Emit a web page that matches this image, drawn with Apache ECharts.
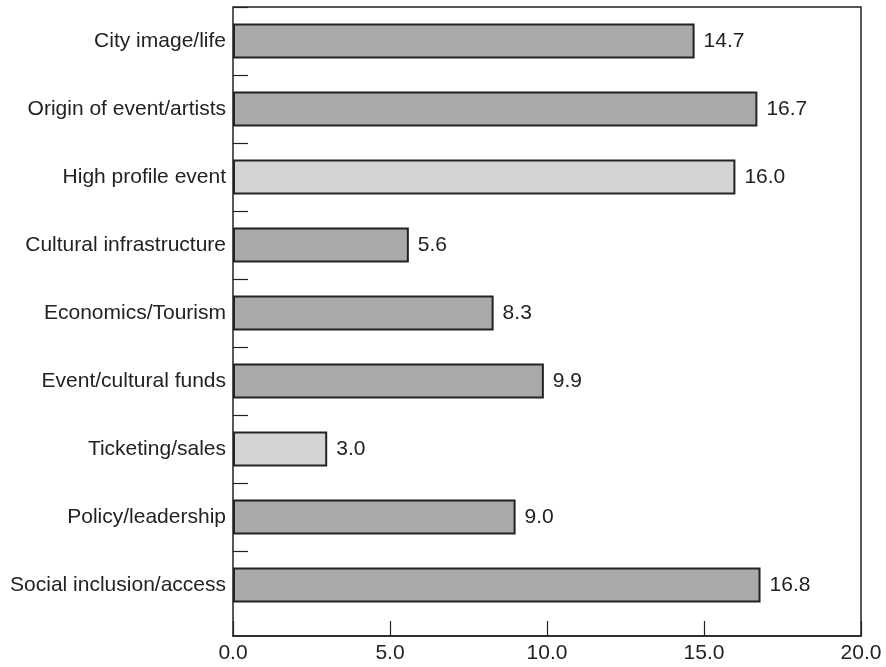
<!DOCTYPE html>
<html>
<head>
<meta charset="utf-8">
<script src="https://cdn.jsdelivr.net/npm/echarts@6/dist/echarts.min.js"></script>
<style>html,body{margin:0;padding:0;background:#fff;}#c{width:886px;height:667px;}</style>
</head>
<body>
<div id="c"></div>
<script>
// Top-to-bottom order as in the reference
const categories = ["City image/life","Origin of event/artists","High profile event","Cultural infrastructure","Economics/Tourism","Event/cultural funds","Ticketing/sales","Policy/leadership","Social inclusion/access"];
const values = [14.7, 16.7, 16.0, 5.6, 8.3, 9.9, 3.0, 9.0, 16.8];
const highlighted = [false, false, true, false, false, false, true, false, false];
const xTicks = [0, 5, 10, 15, 20];

const DARK = '#a9a9a9', LIGHT = '#d4d4d4', INK = '#222';
const FONT = 'Liberation Sans';
const FS = 21;

// category axis drawn bottom-up, so reverse
const cats = categories.slice().reverse();
const hl = highlighted.slice().reverse();
const data = values.slice().reverse().map((v, i) => ({
  value: v,
  itemStyle: { color: hl[i] ? LIGHT : DARK }
}));

const chart = echarts.init(document.getElementById('c'), null, {renderer: 'canvas'});
chart.setOption({
  animation: false,
  backgroundColor: '#fff',
  grid: [
    { left: 233, right: 25, top: 7, height: 612 },
    { left: 233, right: 25, top: 7, bottom: 31, show: true, borderColor: INK, borderWidth: 1.5, backgroundColor: 'transparent' }
  ],
  xAxis: [
    { gridIndex: 0, type: 'value', min: xTicks[0], max: xTicks[xTicks.length-1], show: false },
    { gridIndex: 1, type: 'value', min: xTicks[0], max: xTicks[xTicks.length-1], interval: 5,
      axisLine: { show: true, lineStyle: { color: INK, width: 1.5 } },
      axisTick: { show: true, inside: true, length: 15, lineStyle: { color: INK, width: 1.2 } },
      splitLine: { show: false },
      axisLabel: { margin: 7, color: INK, fontFamily: FONT, fontSize: FS, formatter: v => v.toFixed(1) } }
  ],
  yAxis: [
    { gridIndex: 0, type: 'category', data: cats, boundaryGap: true,
      axisLine: { show: false },
      axisTick: { show: true, inside: true, length: 15, interval: (idx) => idx !== 0, lineStyle: { color: INK, width: 1.2 } },
      axisLabel: { interval: 0, margin: 7, color: INK, fontFamily: FONT, fontSize: FS } },
    { gridIndex: 1, type: 'value', show: false, min: 0, max: 1 }
  ],
  series: [{
    type: 'bar',
    xAxisIndex: 0, yAxisIndex: 0,
    data: data,
    barWidth: 35,
    itemStyle: { borderColor: INK, borderWidth: 2 },
    label: { show: true, position: 'right', distance: 9, color: INK, fontFamily: FONT, fontSize: FS,
      formatter: p => p.value.toFixed(1) }
  }]
});
</script>
</body>
</html>
